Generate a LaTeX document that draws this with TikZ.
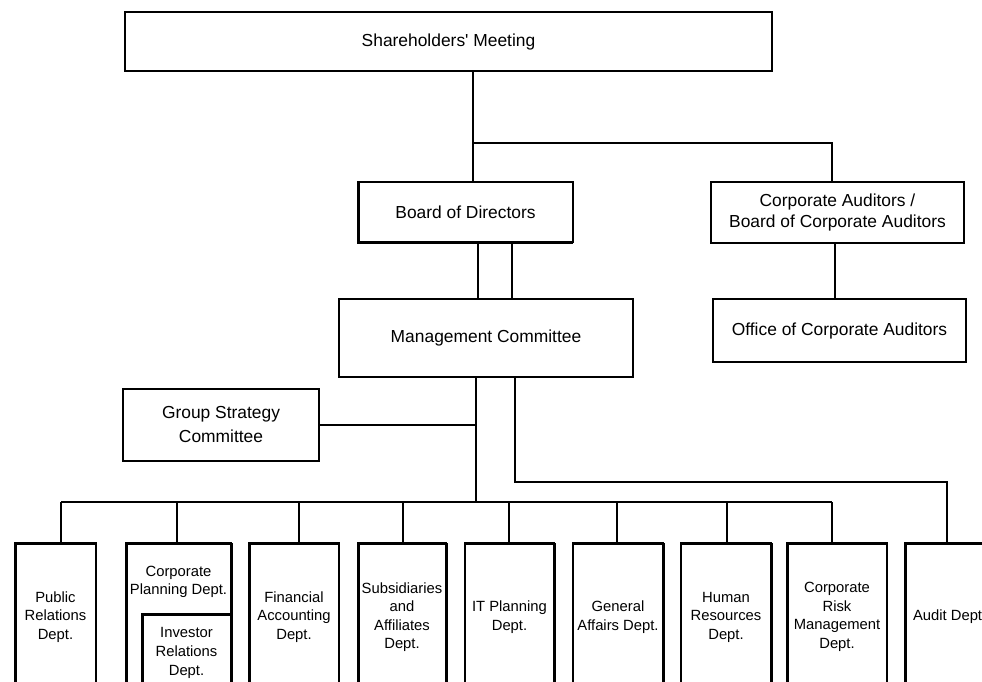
\documentclass[tikz,border=0pt]{standalone}
\usepackage{fontspec}
\setmainfont{Liberation Sans}
\begin{document}
\begin{tikzpicture}[x=1pt,y=-1pt,line width=1.3pt,
  box/.style={draw,line width=1.3pt,inner sep=0pt,outer sep=0pt,align=center,font=\fontsize{17.4}{21}\selectfont},
  dept/.style={draw,line width=1.6pt,inner sep=0pt,outer sep=0pt,align=center,minimum height=148pt,font=\fontsize{14.8}{18.5}\selectfont},
  lbl/.style={inner sep=0pt,outer sep=0pt,align=center,font=\fontsize{14.8}{18.5}\selectfont},
  heavy/.style={line width=3pt}]
\useasboundingbox (0,0) rectangle (982,681);
\clip (0,0) rectangle (982,681);
\fill[white] (0,0) rectangle (982,681);
% upper boxes
\node[box,minimum width=647pt,minimum height=59pt] (sm) at (448.5,41.5) {Shareholders\textquotesingle{} Meeting};
\node[box,minimum width=215pt,minimum height=60pt] (bod) at (465.5,212) {Board of Directors};
\node[box,minimum width=253pt,minimum height=61pt] (ca) at (837.5,212.5) {Corporate Auditors /\\Board of Corporate Auditors};
\node[box,minimum width=294pt,minimum height=78pt] (mc) at (486,338) {Management Committee};
\node[box,minimum width=253pt,minimum height=63pt] (oca) at (839.5,330.5) {Office of Corporate Auditors};
\node[box,minimum width=196pt,minimum height=72pt,font=\fontsize{17.4}{24}\selectfont] (gsc) at (221,425) {Group Strategy\\Committee};
\draw[heavy] (bod.north west) -- (bod.south west) -- (bod.south east);
% departments
\node[dept,minimum width=81pt] (pr) at (55.5,617) {Public\\Relations\\Dept.};
\node[dept,minimum width=105pt] (cp) at (178.5,617) {};
\node[lbl] (cplbl) at (178.5,582) {Corporate\\Planning Dept.};
\node[dept,minimum width=89pt,minimum height=77pt,font=\fontsize{14.8}{19}\selectfont] (ir) at (186.5,652.5) {Investor\\Relations\\Dept.};
\node[dept,minimum width=90pt] (fa) at (294,617) {Financial\\Accounting\\Dept.};
\node[dept,minimum width=88pt] (sub) at (402,617) {Subsidiaries\\and\\Affiliates\\Dept.};
\node[dept,minimum width=89pt] (it) at (509.5,617) {IT Planning\\Dept.};
\node[dept,minimum width=90pt] (ga) at (618,617) {General\\Affairs Dept.};
\node[dept,minimum width=90pt] (hr) at (726,617) {Human\\Resources\\Dept.};
\node[dept,minimum width=100pt] (cr) at (837,617) {Corporate\\Risk\\Management\\Dept.};
\node[dept,minimum width=155pt] (ad) at (982.5,617) {};
\node[lbl,anchor=west] (adlbl) at (913,617) {Audit Dept};
% heavy edges
\foreach \n in {pr,cp,ir,fa,sub,it,ga,hr,cr,ad}
  \draw[heavy] (\n.north west) -- (\n.north east);
\foreach \n in {pr,cp,ir,fa,sub,cr,ad}
  \draw[heavy] (\n.north west) -- (\n.south west);
\foreach \n in {cp,sub,it,ga,hr}
  \draw[heavy] (\n.north east) -- (\n.south east);
% connectors
\coordinate (j1) at (473,143);
\coordinate (j2) at (832,143);
\draw (j1 |- sm.south) -- (j1 |- bod.north);
\draw (j1) -- (j2) -- (j2 |- ca.north);
\coordinate (b1) at (478,270);
\coordinate (b2) at (512,270);
\draw (b1 |- bod.south) -- (b1 |- mc.north);
\draw (b2 |- bod.south) -- (b2 |- mc.north);
\coordinate (c1) at (835,270);
\draw (c1 |- ca.south) -- (c1 |- oca.north);
\coordinate (m1) at (476,502);
\coordinate (m2) at (515,482);
\coordinate (a1) at (947,482);
\draw (m1 |- mc.south) -- (m1);
\draw (gsc.east) -- (gsc.east -| m1);
\draw (m2 |- mc.south) -- (m2) -- (a1) -- (a1 |- ad.north);
\coordinate (busL) at (61,502);
\coordinate (busR) at (832,502);
\draw (busL) -- (busR);
\foreach \x/\n in {61/pr,177/cp,299/fa,403/sub,509/it,617/ga,727/hr,832/cr}
  \draw (\x,502) -- (\x,502 |- \n.north);
\end{tikzpicture}
\end{document}
